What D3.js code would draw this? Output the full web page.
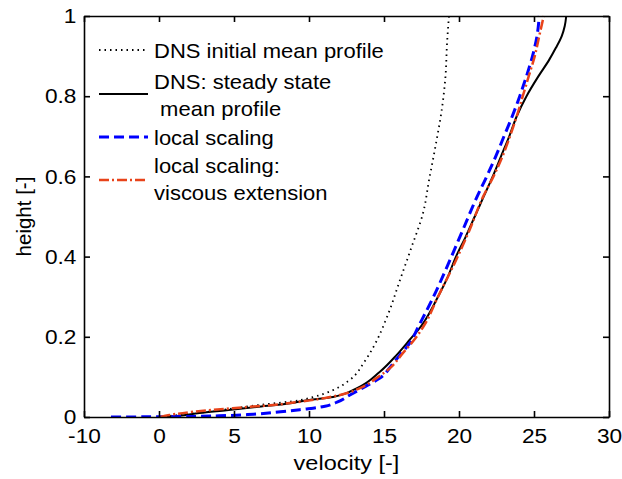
<!DOCTYPE html>
<html>
<head>
<meta charset="utf-8">
<script src="https://cdn.jsdelivr.net/npm/d3@7"></script>
<style>
  body { margin: 0; background: #fff; }
  svg { display: block; }
</style>
</head>
<body>
<script>
// tick values and the labels printed on them
const velTicks = [-5, 0, 5, 10, 15, 20, 25, 30];
const velTickLabels = ["-10", "0", "5", "10", "15", "20", "25", "30"];
const heightTicks = [0, 0.2, 0.4, 0.6, 0.8, 1];
const heightTickLabels = ["0", "0.2", "0.4", "0.6", "0.8", "1"];

// DNS initial mean profile
const initialVel    = [0, 3, 6.7, 9.4, 10.3, 11.6, 12.7, 13.7, 14.3, 15.3, 16.07, 16.85, 17.6, 18.0, 18.47, 18.85, 19.1, 19.2, 19.33];
const initialHeight = [0, 0.012, 0.03, 0.042, 0.05, 0.067, 0.092, 0.138, 0.175, 0.259, 0.342, 0.425, 0.508, 0.59, 0.683, 0.766, 0.85, 0.93, 1];

// DNS steady state mean profile
const steadyVel    = [0.5, 1.5, 2.7, 4.5, 6.5, 8.9, 9.9, 11.6, 13.2, 14.73, 15.85, 16.7, 17.5, 18.6, 19.2, 19.8, 20.45, 21.05, 21.65, 22.25, 22.8, 23.35, 23.85, 24.5, 25.3, 26.0, 26.45, 26.85, 27.05, 27.15];
const steadyHeight = [0, 0.004, 0.01, 0.017, 0.025, 0.035, 0.042, 0.05, 0.072, 0.113, 0.155, 0.192, 0.228, 0.3, 0.345, 0.4, 0.45, 0.5, 0.55, 0.6, 0.65, 0.7, 0.75, 0.8, 0.85, 0.89, 0.92, 0.95, 0.975, 1];

// local scaling
const localVel    = [-3.2, 1.5, 4, 6.3, 8.1, 9.8, 10.27, 11.07, 11.87, 12.73, 13.8, 14.73, 15.53, 16.07, 16.73, 17.27, 18.3, 19.3, 20.25, 21.2, 21.85, 22.45, 23.0, 23.55, 24.05, 24.5, 24.9, 25.2, 25.35];
const localHeight = [0, 0.001, 0.003, 0.007, 0.013, 0.02, 0.022, 0.027, 0.037, 0.055, 0.077, 0.097, 0.13, 0.155, 0.185, 0.224, 0.3, 0.383, 0.466, 0.549, 0.6, 0.65, 0.7, 0.75, 0.8, 0.85, 0.9, 0.95, 1];

// local scaling: viscous extension
const viscousVel    = [0.1, 0.7, 2.3, 4.9, 7.6, 9.4, 10.7, 12.07, 13.4, 14.5, 15.4, 16.27, 17.07, 17.7, 18.6, 19.7, 20.7, 21.6, 22.3, 22.9, 23.4, 23.85, 24.25, 24.65, 25.05, 25.35, 25.65];
const viscousHeight = [0, 0.005, 0.013, 0.022, 0.03, 0.038, 0.045, 0.055, 0.072, 0.097, 0.122, 0.16, 0.195, 0.23, 0.3, 0.383, 0.466, 0.549, 0.6, 0.65, 0.7, 0.75, 0.8, 0.85, 0.9, 0.95, 1];

const legendLabels = [
  ["DNS initial mean profile"],
  ["DNS: steady state", " mean profile"],
  ["local scaling"],
  ["local scaling:", "viscous extension"]
];

const W = 622, H = 479;
const plotLeft = 84, plotRight = 609, plotTop = 16, plotBottom = 417;
const font = "'Liberation Sans', Arial, sans-serif";

const svg = d3.select("body").append("svg")
    .attr("width", W)
    .attr("height", H);

svg.append("rect").attr("width", W).attr("height", H).attr("fill", "#fff");

const x = d3.scaleLinear().domain([-5, 30]).range([plotLeft, plotRight]);
const y = d3.scaleLinear().domain([0, 1]).range([plotBottom, plotTop]);

svg.append("clipPath").attr("id", "plot-clip")
  .append("rect")
    .attr("x", plotLeft).attr("y", plotTop - 2)
    .attr("width", plotRight - plotLeft).attr("height", plotBottom - plotTop + 2);

const series = [
  { vel: initialVel, h: initialHeight, color: "#000", width: 1.8, dash: "1.5,4" },
  { vel: steadyVel, h: steadyHeight, color: "#000", width: 2, dash: null },
  { vel: localVel, h: localHeight, color: "#0000ff", width: 3, dash: "10,5" },
  { vel: viscousVel, h: viscousHeight, color: "#e8431a", width: 2.5, dash: "10,3,2,3" }
];

const line = d3.line()
    .x(d => x(d[0]))
    .y(d => y(d[1]))
    .curve(d3.curveMonotoneY);

const plot = svg.append("g").attr("clip-path", "url(#plot-clip)");

series.forEach(s => {
  plot.append("path")
      .datum(s.vel.map((v, i) => [v, s.h[i]]))
      .attr("fill", "none")
      .attr("stroke", s.color)
      .attr("stroke-width", s.width)
      .attr("stroke-dasharray", s.dash)
      .attr("d", line);
});

// axes, ticks pointing inward
function styleAxis(g) {
  g.select(".domain").attr("stroke", "#000").attr("stroke-width", 1.6);
  g.selectAll(".tick line").attr("stroke", "#000").attr("stroke-width", 1.6);
  g.selectAll("text")
      .attr("fill", "#000")
      .style("font-family", font)
      .style("font-size", "21px");
}

const gx = svg.append("g")
    .attr("transform", `translate(0,${plotBottom})`)
    .call(d3.axisBottom(x).tickValues(velTicks)
        .tickFormat((d, i) => velTickLabels[i])
        .tickSizeInner(-6).tickSizeOuter(0).tickPadding(11))
    .call(styleAxis);
gx.selectAll("text").attr("transform", "scale(1.08,1)");

const gy = svg.append("g")
    .attr("transform", `translate(${plotLeft},0)`)
    .call(d3.axisLeft(y).tickValues(heightTicks)
        .tickFormat((d, i) => heightTickLabels[i])
        .tickSizeInner(-6).tickSizeOuter(0).tickPadding(7))
    .call(styleAxis);
gy.selectAll("text").attr("transform", "scale(1.08,1)");

svg.append("g")
    .attr("transform", `translate(0,${plotTop})`)
    .call(d3.axisTop(x).tickValues(velTicks).tickFormat("")
        .tickSizeInner(-6).tickSizeOuter(0))
    .call(styleAxis);

svg.append("g")
    .attr("transform", `translate(${plotRight},0)`)
    .call(d3.axisRight(y).tickValues(heightTicks).tickFormat("")
        .tickSizeInner(-6).tickSizeOuter(0))
    .call(styleAxis);

// axis titles
svg.append("text")
    .attr("transform", `translate(${(plotLeft + plotRight) / 2},470) scale(1.12,1)`)
    .attr("text-anchor", "middle")
    .style("font-family", font)
    .style("font-size", "21px")
    .text("velocity [-]");

svg.append("text")
    .attr("transform", `translate(31,${(plotTop + plotBottom) / 2}) rotate(-90)`)
    .attr("text-anchor", "middle")
    .style("font-family", font)
    .style("font-size", "20.5px")
    .text("height [-]");

// legend (no box)
const legendLineY = [50, 94, 137, 180];
const legendTextY = [58, 89, 145, 173];
const legend = svg.append("g");

series.forEach((s, i) => {
  legend.append("line")
      .attr("x1", 99).attr("x2", 148)
      .attr("y1", legendLineY[i]).attr("y2", legendLineY[i])
      .attr("stroke", s.color)
      .attr("stroke-width", s.width)
      .attr("stroke-dasharray", s.dash);

  legendLabels[i].forEach((txt, j) => {
    legend.append("text")
        .attr("transform", `translate(154,${legendTextY[i] + j * 27}) scale(1.1,1)`)
        .attr("xml:space", "preserve")
        .style("white-space", "pre")
        .style("font-family", font)
        .style("font-size", "20px")
        .text(txt);
  });
});
</script>
</body>
</html>
